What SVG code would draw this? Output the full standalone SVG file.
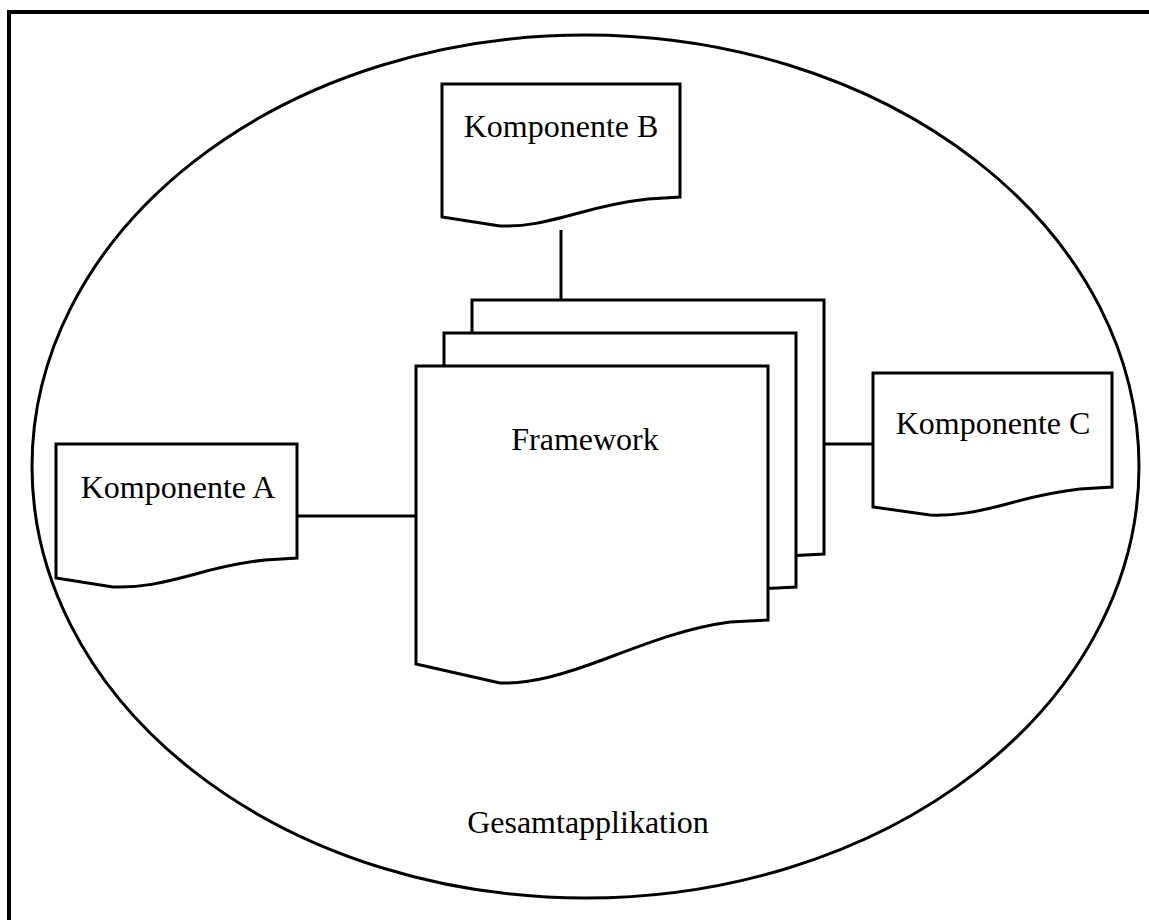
<svg xmlns="http://www.w3.org/2000/svg" xmlns:xlink="http://www.w3.org/1999/xlink" width="1149" height="920" viewBox="0 0 1149 920">
  <style>
    .shape { fill: #ffffff; stroke: #000000; stroke-width: 3; stroke-linejoin: miter; }
    .line { fill: none; stroke: #000000; stroke-width: 3; }
    .label { font-family: "Liberation Serif", "Times New Roman", serif; font-size: 32px; fill: #000000; }
  </style>
  <defs>
    <!-- framework page outline, drawn three times as a stack -->
    <path id="page" d="M416,366 H768 V620 L730,622 C685,628 645,644 605,659 C565,674 532,684 500,683 L416,664 Z"/>
  </defs>

  <rect width="1149" height="920" fill="#ffffff"/>

  <!-- page frame -->
  <path d="M9,920 V12 H1149" fill="none" stroke="#000000" stroke-width="4"/>

  <!-- application boundary -->
  <g id="gesamtapplikation">
    <ellipse cx="585.5" cy="466.5" rx="553.5" ry="431.5" class="line"/>
    <text x="588" y="833" text-anchor="middle" class="label">Gesamtapplikation</text>
  </g>

  <!-- connectors -->
  <g id="connectors">
    <line x1="561" y1="230" x2="561" y2="300" class="line"/>
    <line x1="297" y1="516" x2="416" y2="516" class="line"/>
    <line x1="824" y1="444" x2="873" y2="444" class="line"/>
  </g>

  <g id="framework">
    <use xlink:href="#page" class="shape" transform="translate(56,-66)"/>
    <use xlink:href="#page" class="shape" transform="translate(28,-33)"/>
    <use xlink:href="#page" class="shape"/>
    <text x="585" y="450" text-anchor="middle" class="label">Framework</text>
  </g>

  <g id="komponente-b">
    <path class="shape" d="M442,84 H680 V197 L648,199 C620,202 600,207 575,214 C545,222 525,227 500,226 L442,217 Z"/>
    <text x="561" y="137" text-anchor="middle" class="label">Komponente B</text>
  </g>

  <g id="komponente-a">
    <path class="shape" d="M56,444 H297 V558 L265,560 C237,563 217,568 192,575 C162,583 140,588 113,587 L56,578 Z"/>
    <text x="178" y="498" text-anchor="middle" class="label">Komponente A</text>
  </g>

  <g id="komponente-c">
    <path class="shape" d="M873,373 H1112 V487 L1080,489 C1052,492 1032,497 1007,504 C977,512 955,516 930,515 L873,507 Z"/>
    <text x="993" y="434" text-anchor="middle" class="label">Komponente C</text>
  </g>
</svg>
